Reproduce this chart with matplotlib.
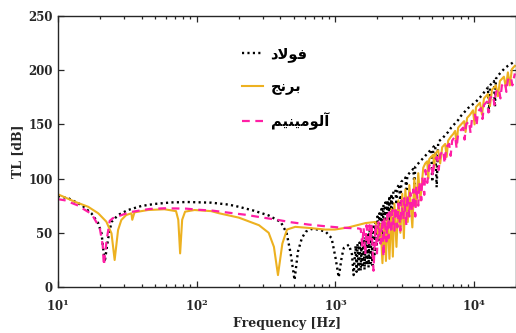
import math
import matplotlib
matplotlib.use("Agg")
import matplotlib.pyplot as plt
from matplotlib.ticker import FuncFormatter, LogLocator, NullFormatter

# ---------------- data ----------------
steel_f = [10, 11.9, 14.8, 17.4, 19.5, 20.6, 21.7, 23.0, 24.3, 27.1, 31.9, 39.8, 49.6,
           65, 85.6, 127, 170, 201, 258, 330, 403, 444, 475, 507, 536, 572, 610, 672,
           754, 850, 938, 1000, 1055, 1110, 1148, 1250, 1315, 1351,
           1396, 1420, 1443, 1470, 1492, 1520, 1542, 1570, 1594, 1620, 1647, 1675,
           1702, 1730, 1759, 1790, 1818, 1850, 1879, 1910, 1943, 1975, 2008, 2040,
           2075, 2110, 2145, 2180, 2217, 2255, 2292, 2330, 2368, 2410, 2448, 2490,
           2530, 2570, 2615, 2703, 2750, 2794, 2887, 2930, 2984, 3084, 3188, 3240,
           3295, 3406, 3520, 3639, 3700, 3761, 3887, 4018, 4153, 4292, 4436, 4585,
           4739, 4898, 4980, 5063, 5233, 5360, 5500, 5875, 6173, 6486, 6818, 7285,
           7653, 8042, 8451, 9028, 9643, 10302, 11005, 11565, 11952, 12560, 12760,
           12982, 13868, 14100, 14333, 14815, 15826, 16633, 17480, 18982, 19620]
steel_tl = [84, 81.8, 75.6, 68, 58.8, 49.5, 23, 45, 60, 66.4, 71, 74.7, 76.6,
            78, 78.4, 77.8, 76, 74, 70.4, 66, 60, 50, 31, 6.5, 32.6, 45, 51, 53.5,
            53, 51, 45, 27, 9, 28, 36, 39, 30, 11,
            38, 14, 40, 16, 41, 15, 42, 18, 44, 16, 46, 20,
            50, 18, 53, 22, 56, 20, 58, 30, 62, 32, 65, 42,
            68, 45, 72, 38, 76, 55, 78, 50, 80, 62, 84, 58,
            86, 70, 88, 90, 76, 92, 95, 75, 97, 99, 101, 88,
            103, 105, 107, 109, 95, 111, 113, 115, 117, 119, 121, 123,
            125, 127, 97, 129, 131, 92, 134, 137, 140, 143, 147, 151,
            154, 158, 161, 165, 168, 171, 175, 178, 181, 184, 161,
            186, 190, 166, 192, 195, 199, 202, 204, 207, 209]

brass_f = [10, 13.2, 16.5, 19.5, 22.3, 24.3, 25.6, 27.1, 28.6, 31.0, 33.8, 34.3, 35.6,
           44.4, 58.5, 70.9, 73.6, 75.9, 78.5, 82.4, 96.3, 127, 145, 201, 281, 330,
           360, 385, 414, 447, 513, 640, 842, 990, 1240, 1650, 1943,
           2042, 2110, 2180, 2255, 2310, 2368, 2448, 2530, 2590, 2660, 2750, 2840,
           2935, 3030, 3110, 3188, 3320, 3406, 3580, 3700, 3820, 3950, 4085, 4292,
           4436, 4585, 4662, 4739, 4898, 5063, 5147, 5233, 5500, 5684, 5875, 6173,
           6330, 6486, 6818, 7046, 7285, 7465, 7653, 8042, 8451, 8662, 8880, 9331,
           9804, 10050, 10302, 11005, 11376, 11759, 12560, 12982, 13424, 14333,
           14815, 15313, 16365, 16910, 17480, 18064, 18670, 19620]
brass_tl = [85.5, 78.7, 74, 68, 60.3, 49.5, 24.9, 52.6, 61.8, 66.4, 68, 62, 68.9,
            71, 71.7, 70, 62, 31, 62, 69.5, 71, 70, 68, 64, 57, 50,
            37, 11, 40, 53, 55.5, 54.5, 53, 53, 55, 59, 60,
            45, 58, 22, 62, 24, 66, 26, 72, 28, 77, 37, 80,
            50, 86, 45, 90, 60, 94, 55, 100, 75, 105, 80, 110,
            114, 116, 100, 118, 120, 122, 110, 123, 126, 114, 129, 132,
            120, 135, 139, 141, 144, 132, 147, 150, 153, 143, 156, 159,
            163, 150, 166, 170, 159, 174, 178, 167, 182, 186,
            176, 190, 194, 184, 198, 186, 201, 204]

alu_f = [10, 11.2, 13.7, 17.5, 20.0, 21.0, 21.4, 22.4, 23.6, 24.8, 32.8, 45.7, 58.5,
         84, 101, 129, 171, 226, 290, 380, 480, 640, 850, 1110, 1466, 1520,
         1560, 1594, 1640, 1675, 1730, 1759, 1790, 1818, 1879, 1943, 1990, 2042,
         2110, 2180, 2217, 2255, 2330, 2368, 2410, 2448, 2530, 2570, 2660, 2703,
         2794, 2840, 2935, 2984, 3084, 3136, 3240, 3295, 3406, 3460, 3580, 3639,
         3761, 3820, 3950, 4018, 4153, 4220, 4364, 4436, 4585, 4739, 4898, 5023,
         5150, 5408, 5545, 5684, 5973, 6124, 6279, 6597, 6761, 6930, 7285, 7465,
         7653, 8042, 8310, 8520, 8734, 9178, 9408, 9643, 10132, 10388, 10649,
         11190, 11470, 11759, 12357, 12665, 12982, 13648, 13982, 14333, 15066,
         15442, 15826, 16633, 17050, 17480, 18365, 18825, 19620]
alu_tl = [81, 80, 75.6, 67.3, 54.4, 38.7, 20, 43, 61, 63.4, 69, 72, 72.6,
          72.3, 71.3, 70.5, 68.5, 66.6, 64.3, 62, 59.7, 57.6, 56, 54.7, 54, 53.5,
          38, 55, 30, 57, 37, 57, 42, 58, 15, 58, 31, 60,
          40, 62, 28, 64, 42, 67, 45, 69, 50, 71, 52, 74,
          55, 77, 52, 80, 62, 82, 57, 85, 65, 87, 70, 90,
          65, 93, 75, 97, 80, 101, 85, 108, 96, 112, 114, 102,
          117, 120, 108, 122, 126, 114, 129, 132, 121, 135, 139, 128,
          142, 145, 147, 136, 150, 153, 142, 156, 159, 149, 162,
          165, 155, 168, 171, 161, 174, 177, 168, 180, 183,
          174, 186, 189, 180, 191, 194, 186, 197]

# legend labels (Persian, shaped presentation forms in visual order)
labels = ["\uFEA9\uFEFB\uFEEE\uFED3",                              # فولاد
          "\uFE9E\uFEE7\uFEAE\uFE91",                              # برنج
          "\uFEE2\uFBFF\uFEE8\uFBFF\uFEE3\uFEEE\uFEDF\uFE81"]      # آلومینیم

yticks = [0, 50, 100, 150, 200, 250]
xlabel = "Frequency [Hz]"
ylabel = "TL [dB]"

# ---------------- figure ----------------
plt.rcParams["font.family"] = ["DejaVu Serif"]
plt.rcParams["font.weight"] = "bold"
plt.rcParams["mathtext.fontset"] = "dejavuserif"

fig = plt.figure(figsize=(5.16, 3.33), dpi=100)
ax = fig.add_axes([58 / 516, 46 / 333, 458 / 516, 271 / 333])

ax.plot(steel_f, steel_tl, color="black", lw=1.7, ls=(0, (0.9, 1.4)),
        label=labels[0])
ax.plot(brass_f, brass_tl, color="#EDB120", lw=1.5, ls="-", label=labels[1])
ax.plot(alu_f, alu_tl, color="#FF1FA5", lw=1.6, ls=(0, (3.5, 2.5)),
        label=labels[2])

ax.set_xscale("log")
ax.set_xlim(10, 2e4)
ax.set_ylim(0, 250)
ax.set_yticks(yticks)
ax.set_yticklabels([str(v) for v in yticks])
ax.xaxis.set_major_locator(LogLocator(base=10, numticks=10))
ax.xaxis.set_major_formatter(
    FuncFormatter(lambda v, p: r"$\mathbf{10^{%d}}$" % round(math.log10(v))))
ax.xaxis.set_minor_formatter(NullFormatter())

ax.tick_params(which="both", direction="in", top=True, right=True,
               labelsize=8.5, width=0.9, colors="#262626", labelcolor="#262626")
ax.tick_params(which="major", length=4.5)
ax.tick_params(which="minor", length=2.5)
ax.tick_params(axis="x", which="major", pad=8)
ax.tick_params(axis="y", which="major", pad=4)
for sp in ax.spines.values():
    sp.set_linewidth(1.0)
    sp.set_color("#262626")

ax.set_xlabel(xlabel, fontsize=9, fontweight="bold", color="#262626", labelpad=2)
ax.set_ylabel(ylabel, fontsize=9, fontweight="bold", color="#262626", labelpad=3)

leg = ax.legend(loc="upper left", bbox_to_anchor=(0.402, 0.89), frameon=False,
                prop={"family": ["DejaVu Sans"], "weight": "bold", "size": 10.5},
                handlelength=1.4, handletextpad=0.55, labelspacing=1.2,
                borderpad=0, borderaxespad=0)

fig.savefig("out.png", dpi=100)
